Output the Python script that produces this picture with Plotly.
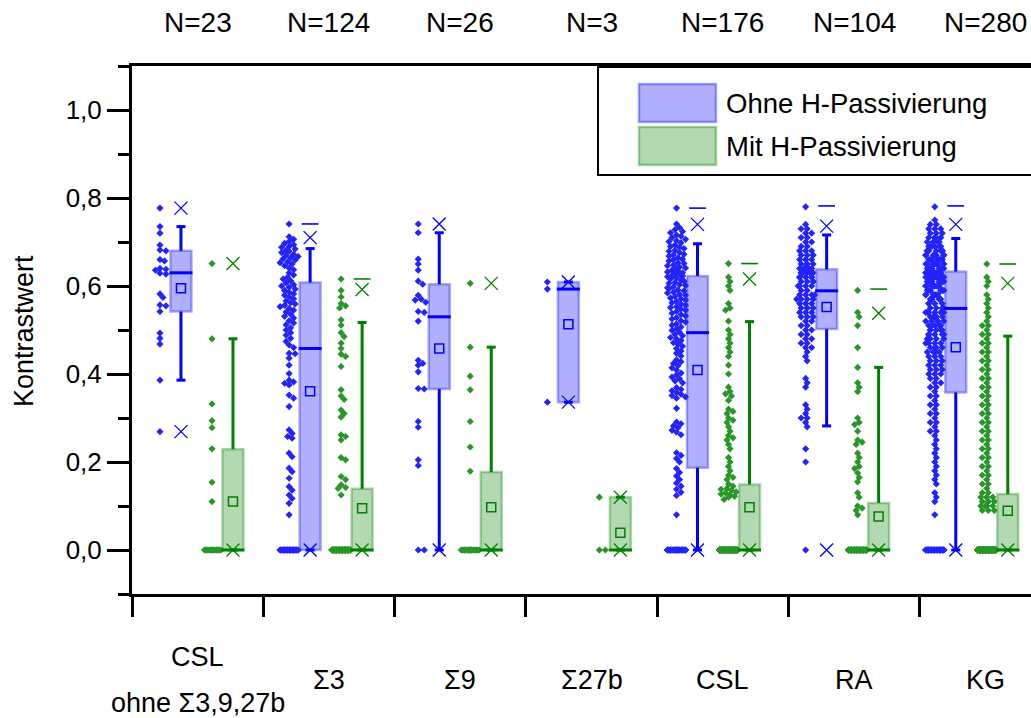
import numpy as np
import plotly.graph_objects as go

# ---------------- data ----------------
categories = ["CSL<br>ohne Σ3,9,27b", "Σ3", "Σ9", "Σ27b", "CSL", "RA", "KG"]
n_labels = ["N=23", "N=124", "N=26", "N=3", "N=176", "N=104", "N=280"]
series_names = ["Ohne H-Passivierung", "Mit H-Passivierung"]

# box statistics, "ohne" (blue)
ohne_q1 = [0.542, 0.0, 0.366, 0.336, 0.187, 0.502, 0.358]
ohne_med = [0.630, 0.458, 0.530, 0.593, 0.494, 0.589, 0.549]
ohne_q3 = [0.680, 0.608, 0.604, 0.609, 0.623, 0.638, 0.633]
ohne_wlo = [0.386, 0.0, 0.0, 0.336, 0.0, 0.282, 0.0]
ohne_whi = [0.735, 0.685, 0.721, 0.609, 0.696, 0.716, 0.708]
ohne_mean = [0.595, 0.361, 0.458, 0.513, 0.409, 0.552, 0.461]
ohne_p1 = [0.269, 0.0, 0.0, 0.336, 0.0, 0.0, 0.0]
ohne_p99 = [0.777, 0.710, 0.741, 0.609, 0.740, 0.736, 0.740]
ohne_max = [None, 0.741, None, None, 0.777, 0.782, 0.782]

# box statistics, "mit" (green)
mit_q1 = [0.0, 0.0, 0.0, 0.0, 0.0, 0.0, 0.0]
mit_med = [0.0, 0.0, 0.0, 0.0, 0.0, 0.0, 0.0]
mit_q3 = [0.229, 0.139, 0.177, 0.120, 0.149, 0.107, 0.127]
mit_wlo = [0.0, 0.0, 0.0, 0.0, 0.0, 0.0, 0.0]
mit_whi = [0.480, 0.517, 0.461, 0.120, 0.519, 0.415, 0.486]
mit_mean = [0.110, 0.095, 0.097, 0.039, 0.097, 0.076, 0.089]
mit_p1 = [0.0, 0.0, 0.0, 0.0, 0.0, 0.0, 0.0]
mit_p99 = [0.651, 0.592, 0.606, 0.120, 0.616, 0.538, 0.606]
mit_max = [None, 0.616, None, None, 0.651, 0.593, 0.650]

# individual points: value levels and how many points sit at each level
o1_v = [0.777, 0.735, 0.720, 0.693, 0.682, 0.680, 0.660, 0.657, 0.640, 0.638, 0.636, 0.629,
        0.627, 0.582, 0.574, 0.557, 0.555, 0.542, 0.493, 0.481, 0.468, 0.386, 0.269]
o1_n = [1] * 23
m1_v = [0.651, 0.480, 0.332, 0.294, 0.278, 0.230, 0.154, 0.110, 0.0]
m1_n = [1, 1, 1, 1, 1, 1, 1, 1, 15]

o2_v = [0.741, 0.712, 0.706, 0.701, 0.697, 0.694, 0.690, 0.688, 0.684, 0.681,
        0.679, 0.676, 0.672, 0.670, 0.667, 0.664, 0.662, 0.659, 0.655, 0.653,
        0.650, 0.646, 0.641, 0.637, 0.630, 0.625, 0.620, 0.616, 0.612, 0.607,
        0.603, 0.600, 0.597, 0.593, 0.590, 0.586, 0.582, 0.579, 0.575, 0.571,
        0.566, 0.562, 0.559, 0.556, 0.553, 0.549, 0.545, 0.541, 0.536, 0.531,
        0.527, 0.521, 0.516, 0.512, 0.505, 0.500, 0.494, 0.488, 0.481, 0.474,
        0.466, 0.460,
        0.447, 0.446, 0.436, 0.420, 0.401, 0.386, 0.382, 0.379, 0.375, 0.352,
        0.345, 0.326, 0.273, 0.265, 0.258, 0.254, 0.220, 0.212, 0.186, 0.178,
        0.163, 0.144, 0.136, 0.125, 0.117, 0.106, 0.080, 0.0]
o2_n = [1] * 89 + [35]
m2_v = [0.616, 0.590, 0.575, 0.560, 0.555, 0.550, 0.523, 0.511, 0.494, 0.485, 0.470,
        0.458, 0.445, 0.440, 0.417, 0.364, 0.350, 0.342, 0.318, 0.310, 0.302, 0.262,
        0.258, 0.250, 0.210, 0.205, 0.167, 0.160, 0.148, 0.142, 0.140, 0.125, 0.0]
m2_n = [1] * 32 + [92]

o3_v = [0.741, 0.721, 0.661, 0.650, 0.636, 0.611, 0.604, 0.579, 0.570, 0.568, 0.563, 0.542,
        0.540, 0.520, 0.431, 0.424, 0.420, 0.405, 0.367, 0.366, 0.292, 0.279, 0.205, 0.192, 0.0]
o3_n = [1] * 24 + [2]
m3_v = [0.606, 0.461, 0.395, 0.364, 0.292, 0.234, 0.179, 0.0]
m3_n = [1] * 7 + [19]

o4_v = [0.609, 0.593, 0.336]
o4_n = [1, 1, 1]
m4_v = [0.120, 0.0]
m4_n = [1, 2]

o5_v = [0.777, 0.741, 0.733, 0.728, 0.724, 0.721, 0.716, 0.713, 0.710, 0.706, 0.703,
        0.701, 0.698, 0.693, 0.690, 0.688, 0.685, 0.681, 0.679, 0.676, 0.672, 0.671,
        0.668, 0.664, 0.661, 0.660, 0.657, 0.653, 0.651, 0.648, 0.646, 0.643, 0.641,
        0.639, 0.636, 0.634, 0.632, 0.630, 0.629, 0.627, 0.626, 0.625, 0.624, 0.623,
        0.621, 0.618, 0.616, 0.613, 0.611, 0.608, 0.606, 0.603, 0.601, 0.598, 0.596,
        0.594, 0.591, 0.589, 0.586, 0.584, 0.581, 0.579, 0.576, 0.573, 0.571, 0.568,
        0.565, 0.562, 0.559, 0.556, 0.553, 0.551, 0.548, 0.545, 0.542, 0.538, 0.535,
        0.532, 0.528, 0.525, 0.521, 0.518, 0.514, 0.511, 0.507, 0.503, 0.499, 0.495,
        0.490, 0.487, 0.483, 0.480, 0.476, 0.471, 0.468, 0.463, 0.458, 0.452, 0.447,
        0.441, 0.432, 0.428, 0.424, 0.419, 0.414, 0.409, 0.402, 0.398, 0.393, 0.389,
        0.384, 0.380, 0.369, 0.365, 0.362, 0.358, 0.354, 0.351, 0.348, 0.345, 0.322,
        0.291, 0.287, 0.282, 0.278, 0.272, 0.268, 0.262, 0.221, 0.215, 0.208, 0.200,
        0.185, 0.176, 0.168, 0.160, 0.152, 0.145, 0.138, 0.131, 0.124, 0.080, 0.0]
o5_n = [1] * 142 + [34]
m5_v = [0.651, 0.620, 0.610, 0.600, 0.590, 0.560, 0.550, 0.545, 0.520, 0.500, 0.490,
        0.480, 0.470, 0.460, 0.450, 0.440, 0.420, 0.400, 0.370, 0.360, 0.355, 0.350,
        0.340, 0.320, 0.315, 0.310, 0.300, 0.295, 0.290, 0.280, 0.270, 0.260, 0.255,
        0.250, 0.240, 0.230, 0.210, 0.200, 0.190, 0.180, 0.170, 0.165, 0.160, 0.150,
        0.145, 0.140, 0.138, 0.135, 0.132, 0.130, 0.127, 0.125, 0.122, 0.120, 0.115, 0.0]
m5_n = [1] * 55 + [121]

o6_v = [0.78, 0.74, 0.73, 0.72, 0.71, 0.70, 0.69, 0.68, 0.67, 0.66, 0.65,
        0.64, 0.63, 0.62, 0.61, 0.60, 0.59,
        0.58, 0.57, 0.56, 0.55, 0.54, 0.53, 0.52, 0.51,
        0.50, 0.49, 0.48, 0.47, 0.46, 0.45, 0.44, 0.43, 0.39, 0.38, 0.37,
        0.33, 0.32, 0.31, 0.30, 0.29, 0.28, 0.23, 0.20, 0.0]
o6_n = [1, 1, 2, 2, 2, 2, 2, 3, 3, 4, 4,
        5, 6, 5, 4, 4, 2,
        4, 4, 4, 4, 3, 3, 2, 2,
        2, 2, 2, 2, 2, 1, 1, 1, 1, 1, 1,
        1, 1, 1, 2, 1, 1, 1, 1, 1]
m6_v = [0.59, 0.54, 0.53, 0.51, 0.46, 0.415, 0.38, 0.37, 0.36, 0.30, 0.29, 0.285, 0.27,
        0.25, 0.245, 0.24, 0.22, 0.21, 0.20, 0.19, 0.185, 0.175, 0.165, 0.155, 0.13,
        0.12, 0.10, 0.095, 0.09, 0.08, 0.0]
m6_n = [1] * 30 + [74]

o7_v = [0.78, 0.75, 0.74, 0.73, 0.72, 0.71, 0.70, 0.69, 0.68, 0.67, 0.66, 0.65, 0.64,
        0.63, 0.62, 0.61, 0.60, 0.59, 0.58, 0.57, 0.56, 0.55,
        0.54, 0.53, 0.52, 0.51, 0.50, 0.49, 0.48, 0.47, 0.46, 0.45, 0.44, 0.43, 0.42,
        0.41, 0.40, 0.39, 0.38, 0.37, 0.36,
        0.35, 0.34, 0.33, 0.32, 0.31, 0.30, 0.29, 0.28, 0.27, 0.26, 0.25, 0.24, 0.23,
        0.22, 0.21, 0.20, 0.19, 0.18, 0.17, 0.16, 0.15, 0.13, 0.12, 0.11, 0.08, 0.0]
o7_n = [1, 1, 2, 3, 3, 5, 5, 6, 7, 8, 9, 10, 10,
        11, 11, 10, 9, 8, 7, 6, 4, 4,
        6, 6, 5, 5, 5, 5, 4, 4, 4, 4, 3, 3, 3, 3, 3, 2, 2, 2, 1,
        2, 1, 2, 1, 2, 1, 2, 1, 2, 1, 1, 1, 1, 1, 1, 1, 1, 1, 1, 1, 1, 1, 1, 1, 1, 40]
m7_v = [0.65, 0.62, 0.61, 0.60, 0.58, 0.57, 0.56, 0.55, 0.54, 0.53, 0.52,
        0.51, 0.50, 0.49, 0.48, 0.47, 0.46, 0.45, 0.44, 0.43, 0.42, 0.41, 0.40, 0.39,
        0.38, 0.37, 0.36, 0.35, 0.34, 0.33, 0.32, 0.31, 0.30, 0.29, 0.28, 0.27, 0.26,
        0.25, 0.24, 0.23, 0.22, 0.21, 0.20, 0.19, 0.18, 0.17, 0.16, 0.15, 0.14, 0.13,
        0.12, 0.11, 0.10, 0.09, 0.0]
m7_n = [1, 1, 1, 1, 1, 1, 1, 1, 1, 1, 1,
        2, 1, 2, 1, 2, 1, 2, 1, 2, 1, 2, 1, 2,
        1, 2, 1, 2, 1, 2, 1, 2, 1, 2, 1, 2, 1,
        2, 1, 2, 1, 2, 1, 2, 1, 2, 1, 2, 1, 2,
        4, 4, 4, 3, 195]

ohne_points = [(o1_v, o1_n), (o2_v, o2_n), (o3_v, o3_n), (o4_v, o4_n),
               (o5_v, o5_n), (o6_v, o6_n), (o7_v, o7_n)]
mit_points = [(m1_v, m1_n), (m2_v, m2_n), (m3_v, m3_n), (m4_v, m4_n),
              (m5_v, m5_n), (m6_v, m6_n), (m7_v, m7_n)]

# ---------------- layout geometry ----------------
W, H = 1031, 718
L, T, PW, PH = 132, 66, 899, 528
XPX = 131.3            # pixels per category unit
YPX = PH / 1.2         # pixels per y unit
x_lo = 0.5
x_hi = x_lo + PW / XPX

BLUE = "#0000ff"
GREEN = "#008000"
BLUE_PT = "rgb(35,35,255)"
GREEN_PT = "rgb(40,150,40)"
BLUE_FILL = "rgba(0,0,255,0.31)"
GREEN_FILL = "rgba(0,128,0,0.30)"
BLUE_EDGE = "rgba(0,0,255,0.32)"
GREEN_EDGE = "rgba(0,128,0,0.32)"
FONT = "Liberation Sans, Arial, sans-serif"

# box positions (pixel layout of the original chart)
pos_ohne = [0.873 + 0.9835 * k for k in range(len(categories))]
pos_mit = [p + 52 / XPX for p in pos_ohne]
pts_ohne = [p - 21 / XPX for p in pos_ohne]
pts_mit = [p + 31 / XPX for p in pos_ohne]
box_w = 21 / XPX
cap_hw = 4.5 / XPX
med_hw = 11.5 / XPX


def expand(vals, cnts):
    out = []
    for v, c in zip(vals, cnts):
        out += [v] * c
    return np.array(out, float)


def swarm(vals, center):
    order = np.argsort(-vals, kind="stable")
    steps = [0.0]
    for k in range(1, 7):
        steps += [1.5 * k, -1.5 * k]
    r = 4.6
    px_l, py_l = [], []
    out = np.empty(len(vals))
    ov = 0
    for i in order:
        y = vals[i] * YPX
        chosen = None
        for c in steps:
            ok = True
            for j in range(len(px_l) - 1, -1, -1):
                if py_l[j] - y >= r:
                    break
                if (px_l[j] - c) ** 2 + (py_l[j] - y) ** 2 < r * r:
                    ok = False
                    break
            if ok:
                chosen = c
                break
        if chosen is None:
            chosen = steps[ov % len(steps)]
            ov += 1
        px_l.append(chosen)
        py_l.append(y)
        out[i] = center + chosen / XPX
    return out


fig = go.Figure()


def add_series(pos, ptpos, pts, q1, med, q3, wlo, whi, mean, p1, p99, mx,
               line_c, pt_c, fill_c, edge_c):
    # box
    fig.add_trace(go.Bar(x=pos, y=[b - a for a, b in zip(q1, q3)], base=q1,
                         width=[box_w] * len(pos),
                         marker=dict(color=fill_c, line=dict(color=edge_c, width=2.5)),
                         showlegend=False, hoverinfo="skip"))
    # points
    xs, ys = [], []
    for c, (v, n) in zip(ptpos, pts):
        vals = expand(v, n)
        xs += list(swarm(vals, c))
        ys += list(vals)
    fig.add_trace(go.Scatter(x=xs, y=ys, mode="markers",
                             marker=dict(symbol="diamond", size=5.5, color=pt_c,
                                         line=dict(width=0)),
                             showlegend=False, hoverinfo="skip"))
    # whiskers
    wx, wy = [], []
    for p, a, b, lo, hi in zip(pos, q1, q3, wlo, whi):
        wx += [p, p, None, p, p, None]
        wy += [b, hi, None, a, lo, None]
    fig.add_trace(go.Scatter(x=wx, y=wy, mode="lines", line=dict(color=line_c, width=3),
                             showlegend=False, hoverinfo="skip"))
    # caps + median
    cx, cy = [], []
    for p, lo, hi, m in zip(pos, wlo, whi, med):
        cx += [p - cap_hw, p + cap_hw, None, p - cap_hw, p + cap_hw, None,
               p - med_hw, p + med_hw, None]
        cy += [hi, hi, None, lo, lo, None, m, m, None]
    fig.add_trace(go.Scatter(x=cx, y=cy, mode="lines", line=dict(color=line_c, width=3),
                             showlegend=False, hoverinfo="skip"))
    # mean
    fig.add_trace(go.Scatter(x=pos, y=mean, mode="markers",
                             marker=dict(symbol="square-open", size=9, color=line_c,
                                         line=dict(width=1.5, color=line_c)),
                             showlegend=False, hoverinfo="skip"))
    # 1% / 99%
    fig.add_trace(go.Scatter(x=list(pos) + list(pos), y=list(p1) + list(p99), mode="markers",
                             marker=dict(symbol="x-thin-open", size=13, color=line_c,
                                         line=dict(width=1.3, color=line_c)),
                             showlegend=False, hoverinfo="skip"))
    # max
    fig.add_trace(go.Scatter(x=pos, y=mx, mode="markers",
                             marker=dict(symbol="line-ew-open", size=12, color=line_c,
                                         line=dict(width=1.6, color=line_c)),
                             showlegend=False, hoverinfo="skip"))


add_series(pos_ohne, pts_ohne, ohne_points, ohne_q1, ohne_med, ohne_q3, ohne_wlo, ohne_whi,
           ohne_mean, ohne_p1, ohne_p99, ohne_max, BLUE, BLUE_PT, BLUE_FILL, BLUE_EDGE)
add_series(pos_mit, pts_mit, mit_points, mit_q1, mit_med, mit_q3, mit_wlo, mit_whi,
           mit_mean, mit_p1, mit_p99, mit_max, GREEN, GREEN_PT, GREEN_FILL, GREEN_EDGE)


def pxx(px):
    return (px - L) / PW


def pxy(py):
    return (T + PH - py) / PH


LINE_GAP = 46  # px between the lines of a two-line category label
annotations = []
for k, (cat, nl) in enumerate(zip(categories, n_labels)):
    annotations.append(dict(x=k + 1, xref="x", y=pxy(22), yref="paper", text=nl,
                            showarrow=False, xanchor="center", yanchor="middle",
                            font=dict(size=28, color="black", family=FONT)))
    lines = cat.split("<br>")
    y0 = 680 - LINE_GAP * (len(lines) - 1) / 2
    for j, ln in enumerate(lines):
        annotations.append(dict(x=k + 1, xref="x", y=pxy(y0 + j * LINE_GAP), yref="paper",
                                text=ln, showarrow=False, xanchor="center",
                                yanchor="middle",
                                font=dict(size=27, color="black", family=FONT)))
annotations.append(dict(x=pxx(24), xref="paper", y=pxy(331), yref="paper", text="Kontrastwert",
                        textangle=-90, showarrow=False, xanchor="center", yanchor="middle",
                        font=dict(size=27, color="black", family=FONT)))
for name, yc in zip(series_names, [103, 146]):
    annotations.append(dict(x=pxx(724), xref="paper", y=pxy(yc), yref="paper", text=name,
                            showarrow=False, xanchor="left", yanchor="middle",
                            font=dict(size=27.5, color="black", family=FONT)))

shapes = [
    dict(type="rect", xref="paper", yref="paper", x0=pxx(598), x1=pxx(1040),
         y0=pxy(175), y1=pxy(67), line=dict(color="black", width=2), fillcolor="white",
         layer="above"),
    dict(type="rect", xref="paper", yref="paper", x0=pxx(639), x1=pxx(716),
         y0=pxy(122), y1=pxy(84), line=dict(color="rgba(0,0,255,0.35)", width=2.5),
         fillcolor=BLUE_FILL, layer="above"),
    dict(type="rect", xref="paper", yref="paper", x0=pxx(639), x1=pxx(716),
         y0=pxy(165), y1=pxy(127), line=dict(color="rgba(0,128,0,0.35)", width=2.5),
         fillcolor=GREEN_FILL, layer="above"),
]

fig.update_layout(
    width=W, height=H,
    margin=dict(l=L, r=W - L - PW, t=T, b=H - T - PH, pad=0),
    paper_bgcolor="white", plot_bgcolor="white",
    separators=",.",
    barmode="overlay",
    showlegend=False,
    font=dict(family=FONT, color="black"),
    annotations=annotations,
    shapes=shapes,
    xaxis=dict(range=[x_lo, x_hi], showgrid=False, zeroline=False,
               showline=True, linecolor="black", linewidth=3, mirror=True,
               tickvals=[x_lo + k for k in range(8)], ticktext=[""] * 8,
               ticks="outside", ticklen=20, tickwidth=3, tickcolor="black",
               showticklabels=False),
    yaxis=dict(range=[-0.1, 1.1], showgrid=False, zeroline=False,
               showline=True, linecolor="black", linewidth=3,
               tickvals=[0.0, 0.2, 0.4, 0.6, 0.8, 1.0], tickformat=".1f",
               ticks="outside", ticklen=22, tickwidth=3, tickcolor="black",
               tickfont=dict(size=26, color="black", family=FONT),
               minor=dict(tickvals=[-0.1, 0.1, 0.3, 0.5, 0.7, 0.9, 1.1], ticks="outside",
                          ticklen=11, tickwidth=3, tickcolor="black")),
)

fig.write_html("out.html")
